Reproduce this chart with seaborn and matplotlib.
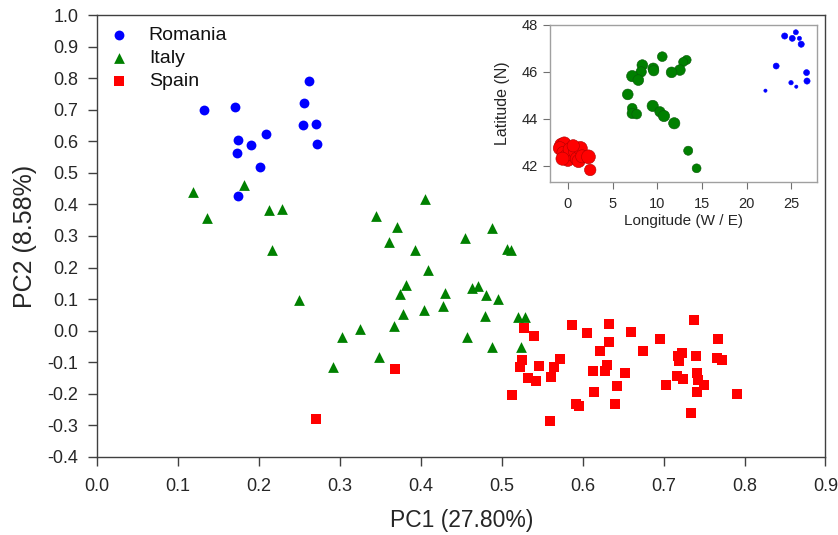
import matplotlib
matplotlib.use("Agg")
import matplotlib.pyplot as plt
import numpy as np
import pandas as pd
import seaborn as sns

# main PCA scores
ROMANIA_PC1 = [0.132, 0.170, 0.262, 0.255, 0.254, 0.270, 0.1735, 0.190, 0.2085, 0.271, 0.1727, 0.201, 0.1735]
ROMANIA_PC2 = [0.700, 0.708, 0.793, 0.722, 0.651, 0.656, 0.604, 0.588, 0.622, 0.591, 0.5635, 0.520, 0.427]

ITALY_PC1 = [0.118, 0.181, 0.136, 0.2127, 0.228, 0.216, 0.4055, 0.345, 0.371, 0.360,
             0.393, 0.455, 0.409, 0.382, 0.374, 0.430, 0.463, 0.470, 0.249, 0.427,
             0.404, 0.3775, 0.367, 0.325, 0.303, 0.457, 0.3486, 0.291, 0.4875, 0.507,
             0.511, 0.480, 0.4953, 0.4796, 0.4883, 0.5205, 0.5287, 0.5234]
ITALY_PC2 = [0.438, 0.462, 0.357, 0.383, 0.386, 0.254, 0.418, 0.362, 0.330, 0.282,
             0.254, 0.293, 0.193, 0.145, 0.116, 0.119, 0.135, 0.140, 0.0955, 0.0786,
             0.0637, 0.052, 0.013, 0.0057, -0.019, -0.019, -0.085, -0.114, 0.325, 0.26,
             0.255, 0.113, 0.1008, 0.0447, -0.052, 0.0415, 0.0415, -0.052]

SPAIN_PC1 = [0.5274, 0.540, 0.587, 0.6057, 0.632, 0.660, 0.738, 0.6325, 0.621, 0.674,
             0.696, 0.767, 0.525, 0.5225, 0.572, 0.565, 0.546, 0.532, 0.542, 0.561,
             0.6296, 0.6276, 0.613, 0.6527, 0.642, 0.6136, 0.5122, 0.592, 0.595, 0.640,
             0.5596, 0.718, 0.7224, 0.7194, 0.740, 0.7656, 0.7718, 0.717, 0.7244, 0.741,
             0.742, 0.750, 0.7026, 0.741, 0.7907, 0.734, 0.3685, 0.2707]
SPAIN_PC2 = [0.0079, -0.0187, 0.0162, -0.008, 0.0206, -0.006, 0.032, -0.0377, -0.066, -0.066,
             -0.026, -0.026, -0.0925, -0.1157, -0.090, -0.114, -0.1116, -0.1506, -0.159, -0.1487,
             -0.1106, -0.1275, -0.1297, -0.136, -0.1772, -0.194, -0.2057, -0.232, -0.240, -0.232,
             -0.288, -0.082, -0.071, -0.098, -0.082, -0.087, -0.0925, -0.143, -0.154, -0.135,
             -0.156, -0.174, -0.174, -0.196, -0.201, -0.26, -0.122, -0.279]

# sampling sites for the inset map (weight = relative marker size)
ROMANIA_LON = [24.25, 25.1, 25.5, 25.9, 26.1, 23.3, 26.7, 26.75, 24.96, 25.55, 22.1]
ROMANIA_LAT = [47.53, 47.43, 47.69, 47.43, 47.18, 46.25, 45.97, 45.61, 45.54, 45.37, 45.2]
ROMANIA_W = [2.4, 2.3, 1.8, 1.4, 2.4, 2.3, 2.3, 2.4, 1.5, 1.05, 1.05]

ITALY_LON = [10.56, 13.28, 12.9, 12.53, 11.6, 9.55, 9.6, 8.33, 8.2, 7.2, 7.88,
             6.7, 7.2, 7.2, 7.7, 9.49, 10.3, 10.75, 11.9, 13.46, 14.4]
ITALY_LAT = [46.65, 46.51, 46.42, 46.08, 45.98, 46.15, 46.05, 46.29, 46.0, 45.82, 45.65,
             45.04, 44.45, 44.23, 44.2, 44.55, 44.3, 44.12, 43.81, 42.64, 41.89]
ITALY_W = [5.2, 4.6, 4.6, 6.2, 6.2, 6.2, 5.8, 6.2, 5.8, 6.8, 6.2,
           6.2, 5.2, 5.8, 5.2, 6.8, 5.8, 6.8, 6.8, 4.6, 4.4]

SPAIN_LON = [-0.7, -0.4, -0.9, -0.5, -0.2, 0.0, 0.3, 0.5, 0.2, 0.8, 1.0, 1.4,
             1.2, 1.6, 2.3, 2.5, -0.6, 0.6]
SPAIN_LAT = [42.88, 42.95, 42.75, 42.55, 42.4, 42.25, 42.55, 42.45, 42.7, 42.6, 42.3, 42.74,
             42.2, 42.4, 42.38, 41.82, 42.3, 42.85]
SPAIN_W = [10, 9, 9, 9, 9, 9, 9, 8, 9, 9, 9, 10, 9, 9, 10, 7, 9, 8]

COUNTRIES = ["Romania", "Italy", "Spain"]
COLORS = {"Romania": "#0000ff", "Italy": "#008000", "Spain": "#ff0000"}
EDGES = {"Romania": "#0000ff", "Italy": "#0a5a0a", "Spain": "#b00000"}
MARKERS = {"Romania": "o", "Italy": "^", "Spain": "s"}
MARKER_SIZE = {"Romania": 50, "Italy": 60, "Spain": 46}


def build_frames():
    scores = pd.concat([
        pd.DataFrame({"pc1": ROMANIA_PC1, "pc2": ROMANIA_PC2, "country": "Romania"}),
        pd.DataFrame({"pc1": ITALY_PC1, "pc2": ITALY_PC2, "country": "Italy"}),
        pd.DataFrame({"pc1": SPAIN_PC1, "pc2": SPAIN_PC2, "country": "Spain"}),
    ], ignore_index=True)
    sites = pd.concat([
        pd.DataFrame({"lon": SPAIN_LON, "lat": SPAIN_LAT, "w": SPAIN_W, "country": "Spain"}),
        pd.DataFrame({"lon": ITALY_LON, "lat": ITALY_LAT, "w": ITALY_W, "country": "Italy"}),
        pd.DataFrame({"lon": ROMANIA_LON, "lat": ROMANIA_LAT, "w": ROMANIA_W, "country": "Romania"}),
    ], ignore_index=True)
    return scores, sites


def main():
    sns.set_style("white")
    plt.rcParams["font.family"] = ["Liberation Sans", "DejaVu Sans"]
    plt.rcParams["axes.edgecolor"] = "#404040"
    plt.rcParams["text.color"] = "#111111"

    scores, sites = build_frames()

    fig = plt.figure(figsize=(8.38, 5.35), dpi=100)
    ax = fig.add_axes([0.1161, 0.1464, 0.8689, 0.8250])

    for country in COUNTRIES:
        sub = scores[scores["country"] == country]
        sns.scatterplot(data=sub, x="pc1", y="pc2", color=COLORS[country],
                        marker=MARKERS[country], s=MARKER_SIZE[country],
                        linewidth=0, label=country, ax=ax)

    xticks = np.round(np.arange(0, 0.91, 0.1), 1)
    yticks = np.round(np.arange(-0.4, 1.01, 0.1), 1)
    ax.set_xlim(0, 0.9)
    ax.set_ylim(-0.4, 1.0)
    ax.set_xticks(xticks)
    ax.set_yticks(yticks)
    ax.set_xticklabels([f"{v:.1f}" for v in xticks])
    ax.set_yticklabels([f"{v + 0.0:.1f}" for v in yticks])
    ax.tick_params(direction="out", length=6.5, width=1, color="#404040",
                   labelsize=13, bottom=True, left=True)
    ax.tick_params(axis="x", pad=9)
    ax.tick_params(axis="y", pad=7)
    for spine in ax.spines.values():
        spine.set_linewidth(1.0)
    ax.set_xlabel("PC1 (27.80%)", fontsize=16.5, labelpad=10)
    ax.set_ylabel("PC2 (8.58%)", fontsize=18, labelpad=8)

    ax.legend(loc="upper left", frameon=False, fontsize=14, handletextpad=1.0,
              labelspacing=0.3, borderaxespad=0.35, borderpad=0.2, handlelength=1.1)

    # inset map of sampling sites
    inset = fig.add_axes([0.6563, 0.6604, 0.319, 0.2929])
    for country in ["Spain", "Italy", "Romania"]:
        sub = sites[sites["country"] == country]
        sns.scatterplot(data=sub, x="lon", y="lat", size="w", sizes=(5, 100),
                        size_norm=(1, 10), color=COLORS[country],
                        edgecolor=EDGES[country], linewidth=0.4,
                        legend=False, ax=inset)
    inset.set_xlim(-2.0, 27.9)
    inset.set_ylim(41.32, 48.0)
    inset.set_xticks([0, 5, 10, 15, 20, 25])
    inset.set_yticks([42, 44, 46, 48])
    inset.tick_params(direction="out", length=5, width=0.8, color="#707070",
                      labelsize=10.5, bottom=True, left=True)
    inset.tick_params(axis="x", pad=6)
    inset.tick_params(axis="y", pad=4)
    for spine in inset.spines.values():
        spine.set_color("#a0a0a0")
        spine.set_linewidth(1.0)
    inset.set_xlabel("Longitude (W / E)", fontsize=11, labelpad=2)
    inset.set_ylabel("Latitude (N)", fontsize=11.5, labelpad=8)

    fig.savefig("out.png", dpi=100)
    plt.close(fig)


if __name__ == "__main__":
    main()
